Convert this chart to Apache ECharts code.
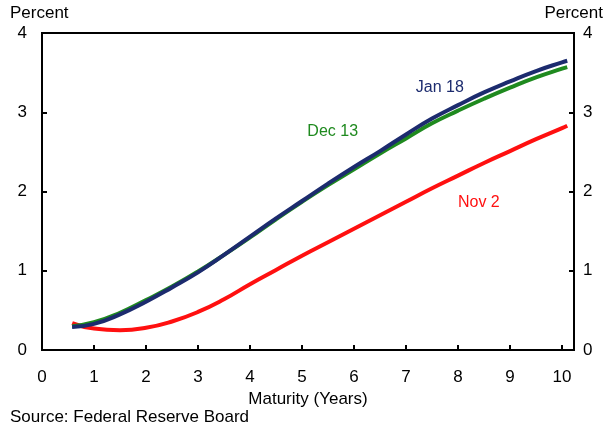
<!DOCTYPE html>
<html>

<head>
  <meta charset="utf-8" />
  <title>Yield curves</title>
  <script src="https://cdn.jsdelivr.net/npm/echarts@6/dist/echarts.min.js"></script>
</head>

<body style="margin:0">
  <div id="main" style="width: 605px;height:430px;"></div>
  <script type="text/javascript">
    // maturities in years, yields in percent
    var maturity = [0.58, 1, 1.5, 2, 2.5, 3, 3.5, 4, 4.5, 5, 5.5, 6, 6.5, 7, 7.5, 8, 8.5, 9, 9.5, 10, 10.1];
    var jan18 = [0.29, 0.33, 0.45, 0.61, 0.79, 0.98, 1.20, 1.43, 1.66, 1.88, 2.10, 2.31, 2.51, 2.72, 2.92, 3.09, 3.25, 3.39, 3.52, 3.63, 3.65];
    var dec13 = [0.30, 0.35, 0.47, 0.63, 0.80, 0.99, 1.20, 1.42, 1.65, 1.87, 2.08, 2.28, 2.48, 2.67, 2.86, 3.02, 3.17, 3.31, 3.44, 3.55, 3.57];
    var nov2 = [0.34, 0.27, 0.25, 0.28, 0.36, 0.48, 0.64, 0.83, 1.01, 1.19, 1.36, 1.53, 1.70, 1.87, 2.04, 2.20, 2.36, 2.51, 2.66, 2.80, 2.83];

    var seriesNames = ['Jan 18', 'Dec 13', 'Nov 2'];
    var seriesColors = ['#1c2b6e', '#1f8a1f', '#ff1010'];
    // where each series name sits, in data units
    var labelAt = [[7.65, 3.31], [5.59, 2.76], [8.40, 1.86]];

    var xTicks = [1, 2, 3, 4, 5, 6, 7, 8, 9, 10];
    var xLabels = [0, 1, 2, 3, 4, 5, 6, 7, 8, 9, 10];

    var myChart = echarts.init(document.getElementById('main'));

    var pairs = (ys) => maturity.map((m, i) => [m, ys[i]]);
    var allData = [jan18, dec13, nov2];

    var font = 'Liberation Sans, Arial, sans-serif';

    var series = [];
    // draw red first, then green, navy on top
    [2, 1, 0].forEach((k) => {
      series.push({
        name: seriesNames[k],
        type: 'line',
        smooth: true,
        showSymbol: false,
        lineStyle: { color: seriesColors[k], width: 4 },
        data: pairs(allData[k]),
        markPoint: {
          symbol: 'circle',
          symbolSize: 0,
          label: {
            show: true,
            formatter: seriesNames[k],
            color: seriesColors[k],
            fontSize: 16,
            fontFamily: font
          },
          data: [{ coord: labelAt[k] }]
        }
      })
    })

    var yAxisBase = {
      type: 'value',
      min: 0,
      max: 4,
      interval: 1,
      splitLine: { show: false },
      axisLine: { show: false },
      axisTick: { inside: true, length: 5, lineStyle: { color: '#000', width: 2 } },
      axisLabel: { color: '#000', fontSize: 17, fontFamily: font }
    };

    var option = {
      animation: false,
      grid: {
        left: 42,
        right: 31,
        top: 33,
        bottom: 80,
        show: true,
        borderColor: '#000',
        borderWidth: 2
      },
      xAxis: {
        type: 'value',
        min: 0,
        max: 10.23,
        splitLine: { show: false },
        axisLine: { show: false },
        axisTick: {
          inside: true,
          length: 5,
          customValues: xTicks,
          lineStyle: { color: '#000', width: 2 }
        },
        axisLabel: {
          customValues: xLabels,
          margin: 19,
          color: '#000',
          fontSize: 17,
          fontFamily: font
        },
        name: 'Maturity (Years)',
        nameLocation: 'middle',
        nameGap: 38,
        nameTextStyle: { color: '#000', fontSize: 17, fontFamily: font }
      },
      yAxis: [
        Object.assign({}, yAxisBase, { position: 'left', axisLabel: Object.assign({}, yAxisBase.axisLabel, { margin: 15 }) }),
        Object.assign({}, yAxisBase, { position: 'right', axisLabel: Object.assign({}, yAxisBase.axisLabel, { margin: 9 }) })
      ],
      graphic: [
        { type: 'text', left: 10, top: 5, style: { text: 'Percent', fill: '#000', font: '17px ' + font } },
        { type: 'text', right: 2, top: 5, style: { text: 'Percent', fill: '#000', font: '17px ' + font } },
        { type: 'text', left: 10, top: 409, style: { text: 'Source: Federal Reserve Board', fill: '#000', font: '17px ' + font } }
      ],
      series: series
    };
    option && myChart.setOption(option);
  </script>
</body>

</html>
